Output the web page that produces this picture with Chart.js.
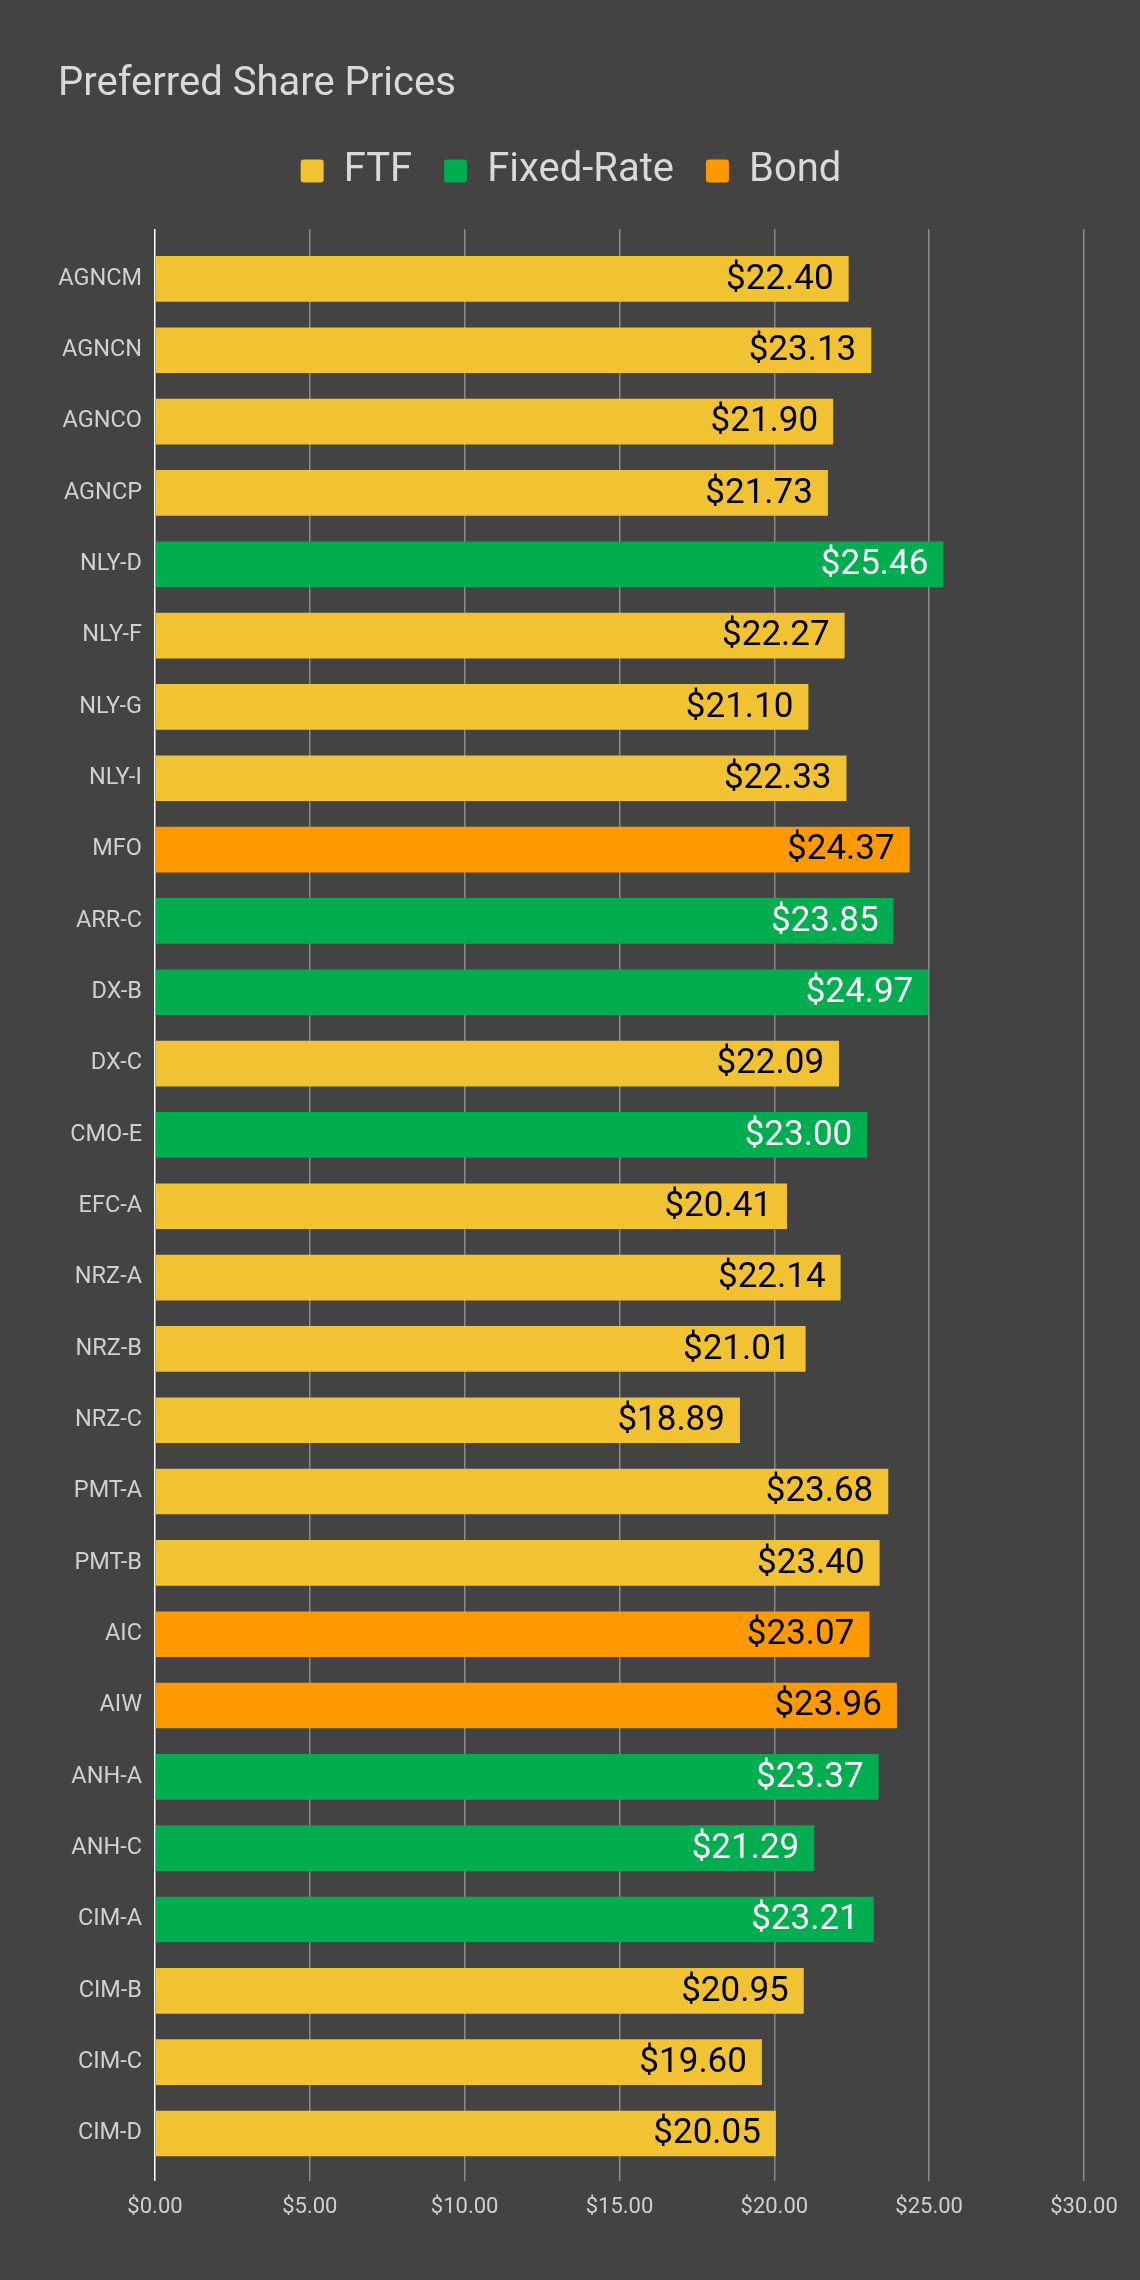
<!DOCTYPE html>
<html>
<head>
<meta charset="utf-8">
<script src="https://cdn.jsdelivr.net/npm/chart.js@4/dist/chart.umd.min.js"></script>
<style>
  html, body { margin: 0; padding: 0; background: #434343; }
  #wrap { width: 1140px; height: 2280px; }
</style>
</head>
<body>
<div id="wrap"><canvas id="myChart"></canvas></div>
<script>
const tickers = ["AGNCM", "AGNCN", "AGNCO", "AGNCP", "NLY-D", "NLY-F", "NLY-G", "NLY-I", "MFO",
  "ARR-C", "DX-B", "DX-C", "CMO-E", "EFC-A", "NRZ-A", "NRZ-B", "NRZ-C", "PMT-A", "PMT-B",
  "AIC", "AIW", "ANH-A", "ANH-C", "CIM-A", "CIM-B", "CIM-C", "CIM-D"];
const prices = [22.40, 23.13, 21.90, 21.73, 25.46, 22.27, 21.10, 22.33, 24.37,
  23.85, 24.97, 22.09, 23.00, 20.41, 22.14, 21.01, 18.89, 23.68, 23.40,
  23.07, 23.96, 23.37, 21.29, 23.21, 20.95, 19.60, 20.05];
const types = ["FTF", "FTF", "FTF", "FTF", "Fixed-Rate", "FTF", "FTF", "FTF", "Bond",
  "Fixed-Rate", "Fixed-Rate", "FTF", "Fixed-Rate", "FTF", "FTF", "FTF", "FTF", "FTF", "FTF",
  "Bond", "Bond", "Fixed-Rate", "Fixed-Rate", "Fixed-Rate", "FTF", "FTF", "FTF"];
const typeNames = ["FTF", "Fixed-Rate", "Bond"];
const typeColors = ["#f1c232", "#00ad4f", "#ff9900"];
const labelColors = ["#000000", "#ffffff", "#000000"];
const xTicks = [0, 5, 10, 15, 20, 25, 30];

// one dataset per type; y is the ticker's row number
const datasets = typeNames.map((name, i) => ({
  label: name,
  data: prices
    .map((p, j) => ({ x: p, y: j }))
    .filter((pt) => types[pt.y] === name),
  backgroundColor: typeColors[i],
  borderWidth: 0,
  categoryPercentage: 0.8,
  barPercentage: 0.8
}));

const valueLabels = {
  id: "valueLabels",
  afterDatasetsDraw(chart) {
    const ctx = chart.ctx;
    ctx.save();
    ctx.font = "35px Roboto";
    ctx.textAlign = "right";
    ctx.textBaseline = "middle";
    chart.data.datasets.forEach((ds, i) => {
      const meta = chart.getDatasetMeta(i);
      meta.data.forEach((bar, j) => {
        ctx.fillStyle = labelColors[i];
        ctx.fillText("$" + ds.data[j].x.toFixed(2), bar.x - 15, bar.y + 1);
      });
    });
    ctx.restore();
  }
};

// extra room under the legend
const legendGap = {
  id: "legendGap",
  beforeInit(chart) {
    if (!chart.legend) return;
    const fit = chart.legend.fit;
    chart.legend.fit = function () {
      fit.call(this);
      this.height += 28;
    };
  }
};

new Chart(document.getElementById("myChart"), {
  type: "bar",
  data: { datasets: datasets },
  plugins: [valueLabels, legendGap],
  options: {
    indexAxis: "y",
    responsive: true,
    maintainAspectRatio: false,
    animation: false,
    layout: { padding: { left: 58, right: 56, top: 61, bottom: 45 } },
    plugins: {
      title: {
        display: true,
        text: "Preferred Share Prices",
        align: "start",
        color: "#d9d9d9",
        font: { family: "Roboto", size: 40, weight: "normal" },
        padding: { top: 0, bottom: 10 }
      },
      legend: {
        position: "top",
        labels: {
          color: "#d9d9d9",
          font: { family: "Roboto", size: 40 },
          boxWidth: 23,
          boxHeight: 23,
          useBorderRadius: true,
          borderRadius: 3,
          padding: 32
        }
      },
      tooltip: { enabled: false }
    },
    scales: {
      x: {
        stacked: true,
        min: 0,
        max: 30,
        afterBuildTicks: (axis) => { axis.ticks = xTicks.map(v => ({ value: v })); },
        grid: {
          color: (c) => c.tick && c.tick.value === 0 ? "#ffffff" : "#8a8a8a",
          lineWidth: 1.5,
          drawTicks: false
        },
        border: { display: false },
        ticks: {
          color: "#d0d0d0",
          font: { family: "Roboto", size: 22 },
          padding: 14,
          callback: (v) => "$" + Number(v).toFixed(2)
        }
      },
      y: {
        type: "linear",
        stacked: true,
        reverse: true,
        offset: false,
        min: -0.7,
        max: tickers.length - 1 + 0.66,
        afterBuildTicks: (axis) => { axis.ticks = tickers.map((t, i) => ({ value: i })); },
        afterFit: (axis) => { axis.width = 97; },
        grid: { display: false, drawTicks: false, offset: false },
        border: { display: false },
        ticks: {
          color: "#d0d0d0",
          font: { family: "Roboto", size: 23.5 },
          padding: 13,
          callback: (v) => tickers[v]
        }
      }
    }
  }
});
</script>
</body>
</html>
